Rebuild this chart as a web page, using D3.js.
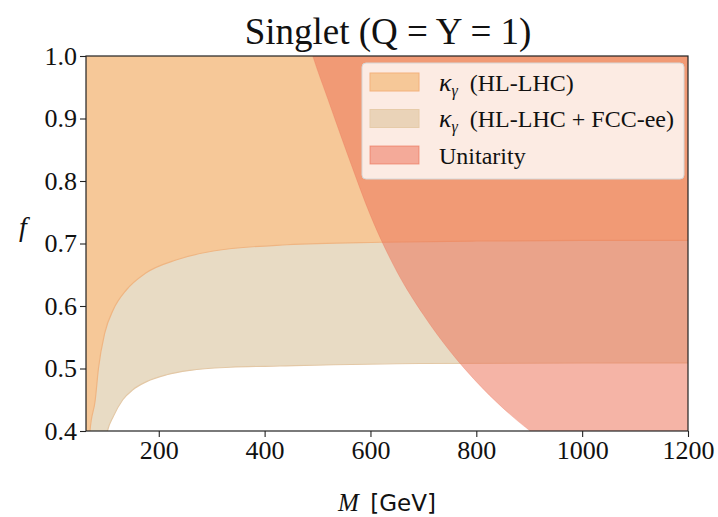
<!DOCTYPE html>
<html>
<head>
<meta charset="utf-8">
<script src="https://cdn.jsdelivr.net/npm/d3@7"></script>
<style>
  body { margin: 0; background: #fff; }
  svg { display: block; }
  text { font-family: "Liberation Serif", serif; fill: #111; }
</style>
</head>
<body>
<svg id="chart" width="718" height="517"></svg>
<script>
// values
const hlMass = [62.5, 70, 80, 86, 98, 114, 139, 174, 234, 303, 442, 618, 800, 1000, 1200];
const hlF    = [0.30, 0.40, 0.45, 0.50, 0.557, 0.594, 0.626, 0.652, 0.674, 0.688, 0.698, 0.702, 0.704, 0.705, 0.705];

const fccMass = [62.5, 90, 103, 114, 132, 151, 177, 215, 259, 335, 429, 694, 1200];
const fccF    = [0.10, 0.33, 0.40, 0.423, 0.45, 0.466, 0.479, 0.49, 0.497, 0.502, 0.504, 0.508, 0.509];

const uniMass = [470, 491, 520, 560, 600, 650, 700, 750, 800, 850, 902, 1000, 1100, 1200];
const uniF    = [1.06, 1.0, 0.93, 0.835, 0.745, 0.655, 0.586, 0.528, 0.479, 0.437, 0.40, 0.35, 0.30, 0.27];

const xTicks = [200, 400, 600, 800, 1000, 1200];
const yTicks = [0.4, 0.5, 0.6, 0.7, 0.8, 0.9, 1.0];

const legendLabels = ['HL-LHC', 'HL-LHC + FCC-ee', 'Unitarity'];

const zip = (xs, ys) => xs.map((m, i) => ({ m, f: ys[i] }));
const hl = zip(hlMass, hlF);
const fcc = zip(fccMass, fccF);
const uni = zip(uniMass, uniF);

// plot box
const box = { left: 86, right: 688, top: 56, bottom: 431 };
const serif = '"Liberation Serif", "Times New Roman", serif';

const svg = d3.select('#chart');

const x = d3.scaleLinear().domain([62.5, 1200]).range([box.left, box.right]);
const y = d3.scaleLinear().domain([0.4, 1.0]).range([box.bottom, box.top]);

svg.append('defs').append('clipPath')
  .attr('id', 'plot-clip')
  .append('rect')
  .attr('x', box.left).attr('y', box.top)
  .attr('width', box.right - box.left).attr('height', box.bottom - box.top);

const plot = svg.append('g').attr('clip-path', 'url(#plot-clip)');

const colors = {
  hl: '#f6c898', hlEdge: '#efb582',
  fcc: '#e8dbc4', fccEdge: '#e3c8a6',
  uni: 'rgb(235,112,85)'
};

const line = d3.line().curve(d3.curveMonotoneX).x(d => x(d.m)).y(d => y(d.f));

// HL-LHC + FCC-ee: everything above the fcc curve (HL region covers the top part)
plot.append('path')
  .datum(fcc)
  .attr('fill', colors.fcc)
  .attr('d', d3.area().curve(d3.curveMonotoneX)
    .x(d => x(d.m)).y0(d => y(d.f)).y1(y(1.05)));

// HL-LHC: above the hl curve
plot.append('path')
  .datum(hl)
  .attr('fill', colors.hl)
  .attr('d', d3.area().curve(d3.curveMonotoneX)
    .x(d => x(d.m)).y0(d => y(d.f)).y1(y(1.05)));

plot.append('path')
  .datum(fcc)
  .attr('fill', 'none')
  .attr('stroke', colors.fccEdge)
  .attr('stroke-width', 1.2)
  .attr('d', line);

plot.append('path')
  .datum(hl)
  .attr('fill', 'none')
  .attr('stroke', colors.hlEdge)
  .attr('stroke-width', 1.2)
  .attr('d', line);

// Unitarity: above the unitarity curve
plot.append('path')
  .datum(uni)
  .attr('fill', colors.uni)
  .attr('fill-opacity', 0.52)
  .attr('d', d3.area().curve(d3.curveMonotoneX)
    .x(d => x(d.m)).y0(d => y(d.f)).y1(y(1.05)));

plot.append('path')
  .datum(uni)
  .attr('fill', 'none')
  .attr('stroke', colors.uni)
  .attr('stroke-opacity', 0.3)
  .attr('d', line);

// axes
const xAxis = svg.append('g')
  .attr('transform', `translate(0,${box.bottom})`)
  .call(d3.axisBottom(x).tickValues(xTicks).tickSize(6).tickPadding(4).tickFormat(d3.format('d')));
const yAxis = svg.append('g')
  .attr('transform', `translate(${box.left},0)`)
  .call(d3.axisLeft(y).tickValues(yTicks).tickSize(6).tickPadding(3).tickFormat(d3.format('.1f')));

[xAxis, yAxis].forEach(g => {
  g.attr('font-family', null).attr('font-size', null);
  g.select('.domain').remove();
  g.selectAll('line').attr('stroke', '#222').attr('stroke-width', 1.1);
  g.selectAll('text')
    .style('font-family', serif)
    .style('font-size', '26px')
    .attr('fill', '#111');
});

svg.append('rect')
  .attr('x', box.left).attr('y', box.top)
  .attr('width', box.right - box.left).attr('height', box.bottom - box.top)
  .attr('fill', 'none')
  .attr('stroke', '#222')
  .attr('stroke-width', 1.2);

// title
svg.append('text')
  .attr('x', 388).attr('y', 44)
  .attr('text-anchor', 'middle')
  .style('font-family', serif)
  .style('font-size', '37px')
  .text('Singlet (Q = Y = 1)');

// axis labels
const xl = svg.append('text')
  .attr('x', 387).attr('y', 511)
  .attr('text-anchor', 'middle')
  .style('font-family', serif)
  .style('font-size', '25px');
xl.append('tspan').attr('font-style', 'italic').text('M');
xl.append('tspan')
  .style('font-family', '"DejaVu Sans", sans-serif')
  .style('font-size', '23px')
  .text('\u2002[GeV]');

svg.append('text')
  .attr('x', 23).attr('y', 236)
  .attr('text-anchor', 'middle')
  .style('font-family', serif)
  .style('font-size', '28px')
  .attr('font-style', 'italic')
  .text('f');

// legend
const legend = svg.append('g');
legend.append('rect')
  .attr('x', 362).attr('y', 63)
  .attr('width', 322).attr('height', 116)
  .attr('rx', 4)
  .attr('fill', '#fff').attr('fill-opacity', 0.8)
  .attr('stroke', '#d6d6d6');

const swatches = [
  { fill: colors.hl, stroke: '#f3b27c', opacity: 1 },
  { fill: '#ead3b8', stroke: '#e6cba9', opacity: 1 },
  { fill: colors.uni, stroke: colors.uni, opacity: 0.52 }
];

legendLabels.forEach((label, i) => {
  const cy = 82 + i * 36.5;
  legend.append('rect')
    .attr('x', 370).attr('y', cy - 9)
    .attr('width', 49).attr('height', 18)
    .attr('fill', swatches[i].fill)
    .attr('fill-opacity', swatches[i].opacity)
    .attr('stroke', swatches[i].stroke)
    .attr('stroke-opacity', i === 2 ? 0.6 : 1);
  const t = legend.append('text')
    .attr('x', 439).attr('y', cy + 8.5)
    .style('font-family', serif)
    .style('font-size', '24px');
  if (i < 2) {
    t.append('tspan').attr('font-style', 'italic').style('font-size', '26px').text('\u03ba');
    t.append('tspan').attr('font-style', 'italic').style('font-size', '16px').attr('dy', 5).text('\u03b3');
    t.append('tspan').attr('dy', -5).text('\u2002(' + label + ')');
  } else {
    t.text(label);
  }
});
</script>
</body>
</html>
